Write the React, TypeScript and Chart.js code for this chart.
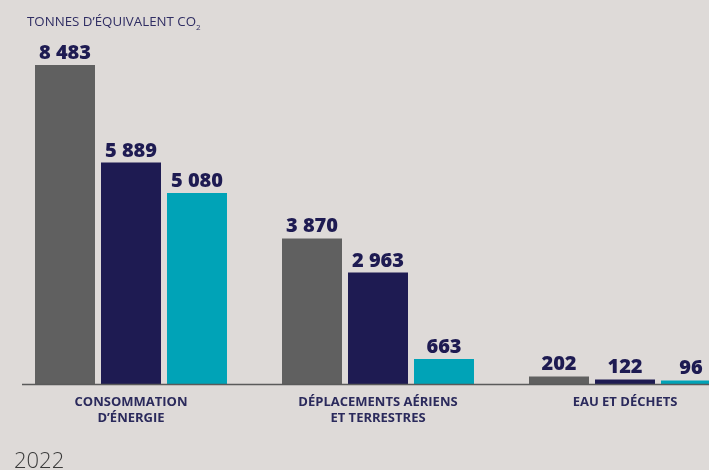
import React, { useEffect, useRef } from "react";
import { Chart, registerables } from "chart.js";

Chart.register(...registerables);

const categories: string[][] = [
  ["CONSOMMATION", "D’ÉNERGIE"],
  ["DÉPLACEMENTS AÉRIENS", "ET TERRESTRES"],
  ["EAU ET DÉCHETS"],
];
const seriesA: number[] = [8483, 3870, 202];
const seriesB: number[] = [5889, 2963, 122];
const seriesC: number[] = [5080, 663, 96];
const colors: string[] = ["#606060", "#1e1b52", "#00a3b7"];

const BG = "#dedad8";
const NAVY = "#1e1b52";

const fmt = (v: number) => String(v).replace(/\B(?=(\d{3})+(?!\d))/g, " ");

const valueLabels = {
  id: "valueLabels",
  afterDatasetsDraw(chart: any) {
    const ctx = chart.ctx;
    ctx.save();
    ctx.font = "800 20px 'Open Sans'";
    ctx.fillStyle = NAVY;
    ctx.textAlign = "center";
    ctx.textBaseline = "alphabetic";
    chart.data.datasets.forEach((ds: any, di: number) => {
      const meta = chart.getDatasetMeta(di);
      meta.data.forEach((bar: any, i: number) => {
        ctx.fillText(fmt(ds.data[i]), bar.x, bar.y - 6);
      });
    });
    ctx.restore();
  },
};

const baseline = {
  id: "baseline",
  afterDatasetsDraw(chart: any) {
    const ctx = chart.ctx;
    const y = chart.chartArea.bottom;
    ctx.save();
    ctx.strokeStyle = "#5a5a5a";
    ctx.lineWidth = 1.5;
    ctx.beginPath();
    ctx.moveTo(chart.chartArea.left + 14.5, y + 0.5);
    ctx.lineTo(chart.width, y + 0.5);
    ctx.stroke();
    ctx.restore();
  },
};

export default function App() {
  const ref = useRef<HTMLCanvasElement>(null);
  useEffect(() => {
    if (!ref.current) return;
    const chart = new Chart(ref.current, {
      type: "bar",
      data: {
        labels: categories,
        datasets: [seriesA, seriesB, seriesC].map((d, i) => ({
          data: d,
          backgroundColor: colors[i],
          borderWidth: 0,
          barPercentage: 0.909,
          categoryPercentage: 0.8016,
        })),
      },
      options: {
        animation: false,
        responsive: false,
        layout: { padding: { left: 7.5, right: 11.5, top: 8, bottom: 0 } },
        plugins: { legend: { display: false }, tooltip: { enabled: false } },
        scales: {
          x: {
            grid: { display: false, drawTicks: false },
            border: { display: false },
            ticks: {
              padding: 10,
              color: "#2b2a5c",
              font: { family: "'Open Sans'", weight: "bold", size: 13, lineHeight: 1.25 },
              maxRotation: 0,
              autoSkip: false,
            },
            afterFit: (scale: any) => {
              scale.height = 86;
            },
          },
          y: {
            display: false,
            min: 0,
            max: 10000,
          },
        },
      },
      plugins: [valueLabels, baseline],
    });
    return () => chart.destroy();
  }, []);

  return (
    <div
      style={{
        position: "fixed",
        left: 0,
        top: 0,
        width: 709,
        height: 470,
        overflow: "hidden",
        background: BG,
      }}
    >
      <canvas ref={ref} width={760} height={470} style={{ position: "absolute", left: 0, top: 0 }} />
      <div
        style={{
          position: "absolute",
          left: 27,
          top: 15,
          fontFamily: "'Open Sans'",
          fontSize: 13.3,
          lineHeight: 1,
          color: "#2f2d63",
          whiteSpace: "nowrap",
        }}
      >
        TONNES D’ÉQUIVALENT CO<sub style={{ fontSize: 8, verticalAlign: "-4px" }}>2</sub>
      </div>
      <div
        style={{
          position: "absolute",
          left: 14,
          top: 448,
          fontFamily: "'Open Sans'",
          fontWeight: 300,
          fontSize: 22,
          lineHeight: 1,
          color: "#3a3a3a",
        }}
      >
        2022
      </div>
    </div>
  );
}
